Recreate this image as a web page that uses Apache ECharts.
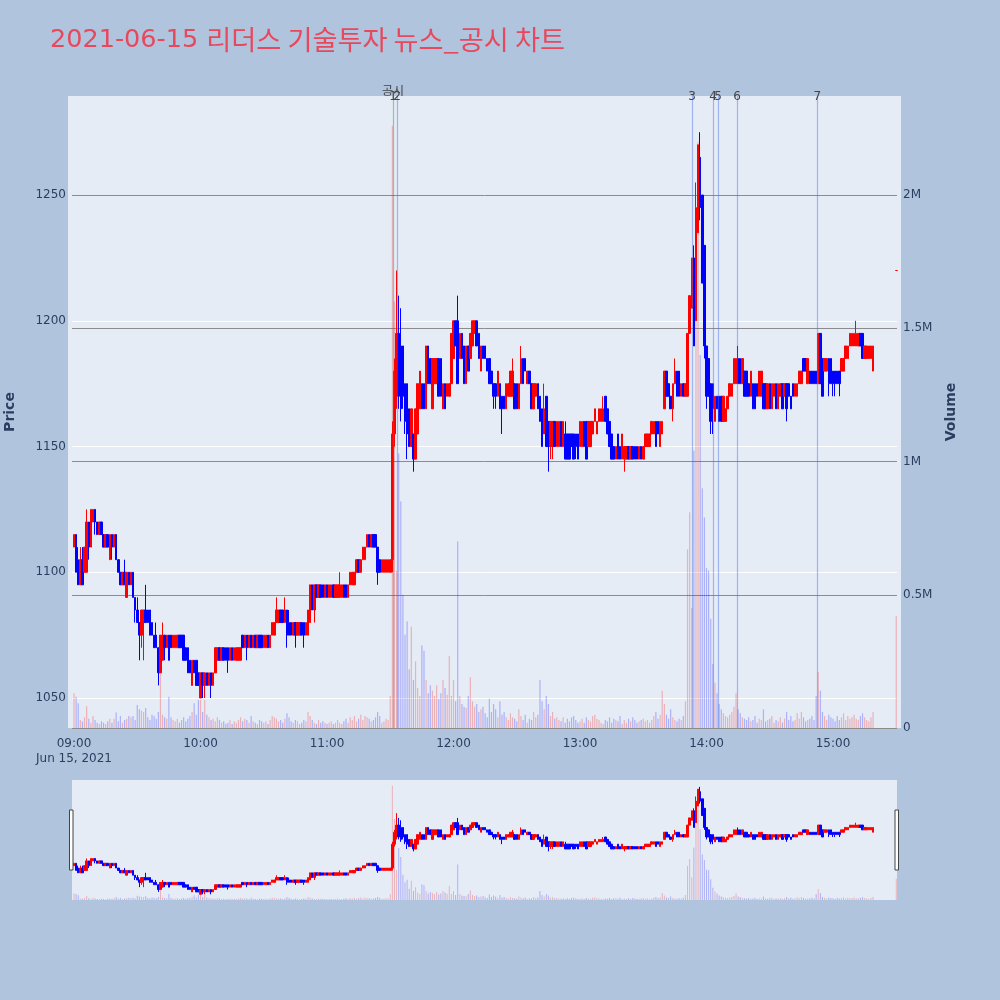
<!DOCTYPE html>
<html><head><meta charset="utf-8">
<script src="https://cdn.jsdelivr.net/npm/echarts@6/dist/echarts.min.js"></script>
<style>html,body{margin:0;padding:0;background:#B0C4DE;}#c{width:1000px;height:1000px;}</style>
</head><body><div id="c"></div>
<script>
const titleDate = '2021-06-15';
const titleName = '리더스 기술투자 뉴스_공시 차트';
// minute offsets from 09:00 (continuous session 09:00-15:19, closing auction 15:30)
const minuteOffsets = Array.from({length: 380}, (_, i) => i).concat([390]);
const opens = [
1110,1115,1105,1095,1105,1100,1100,1120,1110,1120, 1125,1120,1115,1120,1115,1110,1115,1105,1115,1110,
1115,1105,1100,1095,1100,1090,1100,1095,1100,1090, 1085,1080,1075,1080,1085,1085,1085,1080,1075,1075,
1070,1060,1065,1075,1070,1075,1075,1070,1070,1070, 1075,1075,1075,1070,1070,1065,1055,1065,1065,1060,
1050,1060,1055,1060,1055,1060,1055,1060,1065,1070, 1065,1070,1070,1070,1065,1070,1065,1065,1065,1065,
1075,1070,1075,1070,1075,1070,1075,1070,1075,1075, 1070,1070,1075,1070,1075,1075,1080,1080,1085,1085,
1080,1085,1080,1080,1075,1080,1075,1075,1080,1080, 1075,1075,1080,1095,1085,1095,1090,1095,1095,1090,
1095,1090,1090,1095,1090,1090,1090,1090,1095,1095, 1090,1095,1095,1095,1100,1105,1100,1105,1105,1110,
1115,1110,1115,1115,1110,1105,1100,1100,1100,1100, 1100,1105,1155,1175,1195,1190,1190,1175,1175,1165,
1150,1155,1145,1155,1165,1175,1175,1165,1190,1185, 1165,1175,1175,1185,1185,1165,1175,1170,1170,1175,
1185,1200,1200,1185,1195,1190,1175,1190,1185,1190, 1195,1200,1195,1180,1190,1190,1185,1185,1180,1175,
1175,1170,1175,1170,1170,1165,1170,1170,1170,1175, 1175,1165,1175,1185,1185,1175,1180,1175,1165,1170,
1175,1170,1165,1155,1170,1160,1150,1150,1160,1150, 1150,1160,1150,1155,1155,1155,1155,1155,1155,1155,
1150,1150,1160,1160,1150,1150,1155,1160,1155,1160, 1160,1160,1170,1165,1160,1155,1150,1145,1155,1150,
1145,1145,1145,1150,1145,1150,1150,1150,1145,1150, 1145,1150,1150,1150,1155,1155,1160,1160,1150,1155,
1165,1180,1175,1170,1165,1175,1180,1180,1170,1175, 1170,1170,1195,1205,1225,1200,1235,1265,1250,1230,
1190,1185,1175,1175,1160,1170,1170,1170,1160,1160, 1165,1170,1170,1175,1175,1185,1185,1175,1180,1180,
1175,1170,1175,1175,1175,1170,1170,1175,1175,1165, 1175,1165,1170,1175,1165,1170,1175,1170,1175,1175,
1170,1175,1170,1170,1175,1175,1185,1185,1175,1180, 1180,1180,1180,1175,1195,1185,1180,1180,1185,1185,
1180,1180,1180,1180,1180,1180,1185,1185,1190,1190, 1190,1190,1190,1195,1195,1185,1185,1185,1185,1180,
1220];
const closes = [
1115,1100,1095,1105,1095,1110,1120,1110,1125,1125, 1120,1115,1120,1115,1110,1115,1110,1115,1110,1115,
1105,1100,1095,1100,1095,1100,1095,1100,1090,1085, 1080,1075,1085,1085,1080,1080,1075,1075,1070,1070,
1060,1075,1070,1070,1075,1065,1070,1075,1075,1075, 1070,1070,1065,1065,1060,1060,1065,1060,1055,1055,
1060,1055,1060,1055,1060,1055,1060,1070,1070,1065, 1070,1065,1065,1065,1070,1065,1070,1070,1070,1070,
1070,1075,1070,1075,1070,1075,1070,1075,1070,1070, 1075,1075,1070,1075,1080,1080,1085,1085,1080,1080,
1085,1075,1075,1075,1080,1075,1080,1080,1075,1075, 1080,1085,1095,1085,1095,1090,1095,1090,1090,1095,
1090,1095,1095,1090,1095,1095,1095,1095,1090,1090, 1095,1100,1100,1100,1105,1100,1105,1110,1110,1115,
1110,1115,1110,1110,1100,1100,1105,1105,1105,1105, 1105,1155,1180,1195,1170,1165,1170,1160,1155,1150,
1165,1145,1165,1175,1180,1165,1165,1190,1175,1175, 1185,1185,1185,1170,1170,1175,1165,1175,1175,1195,
1200,1190,1175,1195,1185,1175,1190,1180,1195,1200, 1200,1190,1185,1190,1185,1185,1180,1175,1175,1170,
1170,1180,1165,1165,1165,1175,1175,1180,1180,1165, 1165,1175,1185,1175,1180,1180,1175,1165,1175,1175,
1165,1160,1150,1165,1150,1150,1160,1160,1150,1160, 1160,1150,1160,1145,1145,1145,1150,1145,1150,1145,
1160,1160,1150,1145,1160,1160,1160,1165,1160,1165, 1165,1165,1160,1155,1150,1145,1145,1150,1145,1145,
1155,1150,1150,1145,1150,1145,1145,1145,1150,1145, 1150,1155,1155,1155,1160,1160,1150,1155,1160,1160,
1180,1170,1170,1165,1175,1180,1170,1170,1175,1170, 1175,1195,1210,1225,1190,1245,1270,1245,1215,1190,
1170,1170,1160,1165,1170,1165,1160,1160,1170,1165, 1170,1175,1175,1185,1185,1175,1175,1185,1170,1170,
1170,1180,1165,1165,1170,1180,1180,1165,1165,1175, 1165,1175,1175,1165,1175,1175,1165,1175,1165,1170,
1165,1170,1175,1175,1180,1180,1180,1180,1185,1175, 1175,1175,1175,1195,1175,1170,1185,1185,1175,1175,
1175,1175,1175,1175,1185,1185,1190,1190,1195,1195, 1195,1195,1195,1190,1185,1190,1190,1190,1190,1190,
1220];
const lows = [
1110,1100,1095,1095,1095,1100,1100,1105,1110,1120, 1115,1115,1115,1115,1110,1110,1110,1105,1105,1110,
1105,1100,1095,1095,1095,1090,1095,1095,1090,1080, 1080,1065,1070,1065,1080,1080,1075,1075,1070,1070,
1055,1060,1065,1065,1070,1065,1070,1070,1070,1070, 1070,1070,1065,1065,1060,1060,1055,1060,1055,1055,
1050,1050,1050,1055,1055,1050,1055,1060,1065,1065, 1065,1065,1065,1060,1065,1065,1065,1065,1065,1065,
1070,1070,1065,1070,1070,1070,1070,1070,1070,1070, 1070,1070,1070,1070,1075,1075,1080,1080,1080,1080,
1080,1070,1075,1075,1075,1070,1075,1075,1075,1070, 1075,1075,1080,1085,1080,1090,1090,1090,1090,1090,
1090,1090,1090,1090,1090,1090,1090,1090,1090,1090, 1090,1095,1095,1095,1100,1100,1100,1105,1105,1110,
1110,1110,1110,1110,1095,1100,1100,1100,1100,1100, 1100,1100,1150,1165,1165,1160,1165,1155,1145,1150,
1150,1140,1145,1155,1165,1165,1165,1165,1175,1175, 1165,1175,1175,1170,1170,1165,1165,1170,1170,1175,
1185,1190,1175,1185,1185,1175,1175,1180,1185,1190, 1195,1190,1185,1180,1185,1185,1180,1175,1175,1165,
1165,1170,1165,1155,1165,1165,1170,1170,1170,1165, 1165,1165,1175,1175,1180,1175,1175,1165,1165,1170,
1165,1160,1150,1155,1150,1140,1145,1145,1150,1150, 1150,1150,1150,1145,1145,1145,1150,1145,1145,1145,
1150,1150,1150,1145,1150,1150,1155,1160,1155,1160, 1160,1160,1160,1155,1150,1145,1145,1145,1145,1145,
1145,1140,1145,1145,1145,1145,1145,1145,1145,1145, 1145,1150,1150,1150,1155,1155,1150,1155,1150,1155,
1165,1170,1170,1165,1160,1175,1170,1170,1170,1170, 1170,1170,1195,1205,1190,1200,1235,1240,1215,1185,
1165,1170,1155,1155,1160,1165,1160,1160,1160,1160, 1165,1170,1170,1175,1175,1175,1175,1175,1170,1170,
1170,1170,1165,1165,1170,1170,1170,1165,1165,1165, 1165,1165,1170,1165,1165,1170,1165,1170,1160,1170,
1165,1170,1170,1170,1175,1175,1180,1180,1175,1175, 1175,1175,1175,1175,1175,1170,1180,1180,1170,1175,
1170,1170,1175,1170,1180,1180,1185,1185,1190,1190, 1190,1190,1190,1190,1185,1185,1185,1185,1185,1180,
1220];
const highs = [
1115,1115,1110,1110,1110,1110,1125,1120,1125,1125, 1125,1120,1120,1120,1115,1115,1115,1115,1115,1115,
1115,1105,1100,1100,1105,1100,1100,1100,1100,1090, 1090,1080,1085,1085,1095,1085,1085,1080,1075,1080,
1070,1075,1080,1075,1075,1075,1075,1075,1075,1075, 1075,1075,1075,1070,1070,1065,1065,1065,1065,1060,
1060,1060,1060,1060,1060,1060,1060,1070,1070,1070, 1070,1070,1070,1070,1070,1070,1070,1070,1070,1070,
1075,1075,1075,1075,1075,1075,1075,1075,1075,1075, 1075,1075,1075,1075,1080,1080,1090,1085,1085,1085,
1090,1085,1085,1080,1080,1080,1080,1080,1080,1080, 1080,1085,1095,1095,1095,1095,1095,1095,1095,1095,
1095,1095,1095,1095,1095,1095,1100,1095,1095,1095, 1095,1100,1100,1100,1105,1105,1105,1110,1110,1115,
1115,1115,1115,1115,1110,1105,1105,1105,1105,1105, 1105,1160,1185,1220,1210,1205,1190,1175,1175,1165,
1165,1155,1165,1175,1180,1175,1175,1190,1190,1185, 1185,1185,1185,1185,1185,1175,1175,1175,1175,1195,
1200,1200,1210,1195,1195,1190,1190,1190,1195,1200, 1200,1200,1195,1190,1190,1190,1185,1185,1180,1175,
1175,1180,1175,1170,1170,1175,1175,1180,1185,1175, 1175,1175,1190,1185,1185,1180,1180,1175,1175,1175,
1175,1170,1165,1175,1170,1160,1160,1160,1160,1160, 1160,1160,1160,1160,1155,1155,1155,1155,1155,1155,
1160,1160,1160,1160,1160,1160,1160,1165,1160,1165, 1165,1170,1170,1165,1160,1155,1150,1150,1155,1150,
1155,1150,1150,1150,1150,1150,1150,1150,1150,1150, 1150,1155,1155,1155,1160,1160,1160,1160,1160,1160,
1180,1180,1175,1170,1175,1185,1180,1180,1175,1175, 1175,1195,1210,1225,1230,1255,1270,1275,1250,1230,
1190,1185,1175,1175,1170,1170,1170,1170,1170,1165, 1170,1175,1175,1185,1185,1190,1185,1185,1180,1180,
1175,1180,1175,1175,1175,1180,1180,1175,1175,1175, 1175,1175,1175,1175,1175,1175,1175,1175,1175,1175,
1170,1175,1175,1175,1180,1180,1185,1185,1185,1180, 1180,1180,1180,1195,1195,1185,1185,1185,1185,1185,
1180,1180,1180,1180,1185,1185,1190,1190,1195,1195, 1195,1200,1195,1195,1195,1190,1190,1190,1190,1190,
1220];
// volume in thousands of shares
const volumesK = [
130,117,93,30,25,40,82,35,20,45, 30,20,15,25,20,15,25,35,20,35,
58,25,45,20,30,35,45,40,45,30, 86,70,65,60,75,40,30,50,45,35,
60,255,50,40,35,117,40,30,25,35, 20,30,40,25,35,45,60,93,50,105,
105,60,105,50,40,30,35,25,40,30, 20,25,15,20,30,15,25,20,30,40,
25,35,30,20,45,25,20,15,30,25, 20,25,15,30,45,40,35,25,30,20,
35,55,40,25,20,30,25,15,20,30, 25,60,45,30,20,15,30,20,25,20,
15,20,25,15,20,30,20,15,25,35, 20,40,30,45,25,35,50,30,45,40,
35,25,30,40,60,45,20,25,35,30, 120,2260,1600,590,1030,850,500,350,400,220,
380,180,250,150,120,310,290,180,130,160, 140,120,160,110,130,180,150,125,270,120,
180,100,700,120,90,80,75,120,190,100, 80,90,60,70,80,55,40,110,60,90,
70,40,100,50,60,40,30,55,40,35, 25,70,45,30,50,20,35,30,60,40,
50,180,100,70,120,90,45,60,35,40, 30,25,40,20,35,25,40,45,30,20,
25,35,20,40,30,25,45,50,35,30, 20,15,30,25,40,20,35,30,25,45,
15,30,20,35,25,40,30,20,25,30, 35,25,30,20,30,45,60,35,50,140,
90,50,35,70,40,30,25,35,30,45, 100,670,810,450,1040,1700,2200,1400,900,790,
600,590,410,240,170,130,90,70,55,45, 40,50,60,80,130,70,55,40,35,30,
40,25,30,45,20,35,30,70,25,30, 35,45,20,30,25,40,20,35,60,30,
45,25,30,55,35,60,40,25,30,35, 45,30,120,210,140,60,45,30,50,40,
35,25,45,30,40,55,30,45,35,40, 50,35,30,45,55,40,30,25,40,60,
420];
const newsMinutes = [151.3, 153.2, 293.2, 303.1, 305.5, 314.5, 352.5];
const newsLabels = ['1', '2', '3', '4', '5', '6', '7'];
const disclosureLabel = '공시';
const timeTicks = [0, 60, 120, 180, 240, 300, 360];
const timeTickLabels = ['09:00', '10:00', '11:00', '12:00', '13:00', '14:00', '15:00'];
const dateLabel = 'Jun 15, 2021';
const priceTicks = [1050, 1100, 1150, 1200, 1250];
const volumeTicks = [0, 500000, 1000000, 1500000, 2000000];
const volumeTickLabels = ['0', '0.5M', '1M', '1.5M', '2M'];

const UP = '#ff0000', DOWN = '#0000ff';
const UP_VOL = 'rgba(255,0,0,0.25)', DOWN_VOL = 'rgba(0,0,255,0.25)';
function isUp(i) {
  if (closes[i] > opens[i]) return true;
  if (closes[i] < opens[i]) return false;
  return i === 0 || closes[i] >= closes[i - 1];
}
const candleData = minuteOffsets.map((m, i) => [m, opens[i], closes[i], lows[i], highs[i]]);
const volData = minuteOffsets.map((m, i) => ({
  value: [m, volumesK[i] * 1000],
  itemStyle: { color: isUp(i) ? UP_VOL : DOWN_VOL }
}));

const X_MIN = -0.95, X_MAX = 390.35;
const P_MIN = 1038.07, P_MAX = 1289.4;
const V_MAX = 2371500;
const FONT = 'DejaVu Sans';
const TXT = '#2a3f5f';
const TITLE_COLOR = '#E8485C';

const markData = newsMinutes.map((m, i) => ({
  xAxis: m,
  label: { formatter: newsLabels[i] },
  lineStyle: { color: i === 0 ? 'rgba(40,150,60,0.45)' : 'rgba(70,110,230,0.45)' }
}));

const chart = echarts.init(document.getElementById('c'), null, { renderer: 'canvas' });
chart.setOption({
  backgroundColor: '#B0C4DE',
  animation: false,
  title: {
    text: '{d|' + titleDate + ' }{k|' + titleName + '}', left: 50, top: 23, padding: 0,
    textStyle: {
      color: TITLE_COLOR, fontWeight: 'normal',
      rich: {
        d: { color: TITLE_COLOR, fontSize: 25.5, fontFamily: 'DejaVu Sans', lineHeight: 34, verticalAlign: 'middle' },
        k: { color: TITLE_COLOR, fontSize: 27.2, fontFamily: 'Noto Sans CJK KR', lineHeight: 34, verticalAlign: 'middle' }
      }
    }
  },
  graphic: [
    { type: 'rect', z: -10, shape: { x: 68, y: 96, width: 833, height: 632 }, style: { fill: '#E5ECF6' } },
    { type: 'rect', z: 50, shape: { x: 69.5, y: 810, width: 3.5, height: 60 }, style: { fill: '#fff', stroke: '#444', lineWidth: 1 } },
    { type: 'rect', z: 50, shape: { x: 895, y: 810, width: 3.5, height: 60 }, style: { fill: '#fff', stroke: '#444', lineWidth: 1 } }
  ],
  grid: [
    { left: 72, right: 103, top: 96, height: 632, outerBoundsMode: 'none', containLabel: false },
    { left: 72, right: 103, top: 780, height: 120, show: true, backgroundColor: '#E5ECF6', borderWidth: 0, outerBoundsMode: 'none', containLabel: false }
  ],
  xAxis: [
    {
      type: 'value', gridIndex: 0, min: X_MIN, max: X_MAX,
      splitLine: { show: false }, axisLine: { show: false },
      axisTick: { show: false, customValues: timeTicks },
      axisLabel: {
        customValues: timeTicks, color: TXT, fontSize: 12, fontFamily: FONT, margin: 8, lineHeight: 15,
        formatter: v => {
          const k = timeTicks.indexOf(v);
          const t = k >= 0 ? timeTickLabels[k] : '';
          return v === 0 ? t + '\n' + dateLabel : t;
        }
      }
    },
    { type: 'value', gridIndex: 1, min: X_MIN, max: X_MAX, show: false, splitLine: { show: false } }
  ],
  yAxis: [
    {
      type: 'value', gridIndex: 0, min: P_MIN, max: P_MAX, position: 'left',
      name: 'Price', nameLocation: 'middle', nameGap: 55,
      nameTextStyle: { color: TXT, fontSize: 14, fontWeight: 'bold', fontFamily: FONT },
      axisLine: { show: false },
      axisTick: { show: false, customValues: priceTicks },
      axisLabel: { customValues: priceTicks, color: TXT, fontSize: 12, fontFamily: FONT, margin: 6, formatter: v => String(v) },
      splitLine: { show: true, lineStyle: { color: '#ffffff', width: 1 } }
    },
    {
      type: 'value', gridIndex: 0, min: 0, max: V_MAX, position: 'right',
      name: 'Volume', nameLocation: 'middle', nameGap: 47,
      nameTextStyle: { color: TXT, fontSize: 14, fontWeight: 'bold', fontFamily: FONT },
      axisLine: { show: false },
      axisTick: { show: false, customValues: volumeTicks },
      axisLabel: {
        customValues: volumeTicks, color: TXT, fontSize: 12, fontFamily: FONT, margin: 6,
        formatter: v => { const k = volumeTicks.indexOf(v); return k >= 0 ? volumeTickLabels[k] : ''; }
      },
      splitLine: { show: true, lineStyle: { color: '#8c8c8c', width: 1 } }
    },
    { type: 'value', gridIndex: 1, min: P_MIN, max: P_MAX, show: false, splitLine: { show: false } },
    { type: 'value', gridIndex: 1, min: 0, max: V_MAX, show: false, splitLine: { show: false } }
  ],
  series: [
    {
      type: 'bar', name: 'Volume', xAxisIndex: 0, yAxisIndex: 1, data: volData,
      barWidth: 1.2, z: 1,
      markLine: {
        silent: true, symbol: ['none', 'none'], animation: false,
        lineStyle: { type: 'solid', width: 1.2 },
        label: { show: true, position: 'end', distance: -7, color: '#444', fontSize: 12, fontFamily: FONT },
        data: markData
      }
    },
    {
      type: 'line', name: 'disclosure', xAxisIndex: 0, yAxisIndex: 1, data: [], z: 1,
      markLine: {
        silent: true, symbol: ['none', 'none'], animation: false,
        lineStyle: { type: 'solid', width: 1, color: 'rgba(0,0,0,0)' },
        label: { show: true, position: 'end', distance: 0, color: '#444', fontSize: 12, fontFamily: 'Noto Sans CJK KR' },
        data: [{ xAxis: newsMinutes[0], label: { formatter: disclosureLabel } }]
      }
    },
    {
      type: 'candlestick', name: 'Price', xAxisIndex: 0, yAxisIndex: 0, data: candleData,
      encode: { x: 0, y: [1, 2, 3, 4] }, barWidth: 2, z: 3,
      itemStyle: { color: UP, color0: DOWN, borderColor: UP, borderColor0: DOWN, borderWidth: 1 }
    },
    {
      type: 'bar', xAxisIndex: 1, yAxisIndex: 3, data: volData, barWidth: 1, z: 1
    },
    {
      type: 'candlestick', xAxisIndex: 1, yAxisIndex: 2, data: candleData,
      encode: { x: 0, y: [1, 2, 3, 4] }, barWidth: 2, z: 3,
      itemStyle: { color: UP, color0: DOWN, borderColor: UP, borderColor0: DOWN, borderWidth: 1 }
    }
  ]
});
</script></body></html>
